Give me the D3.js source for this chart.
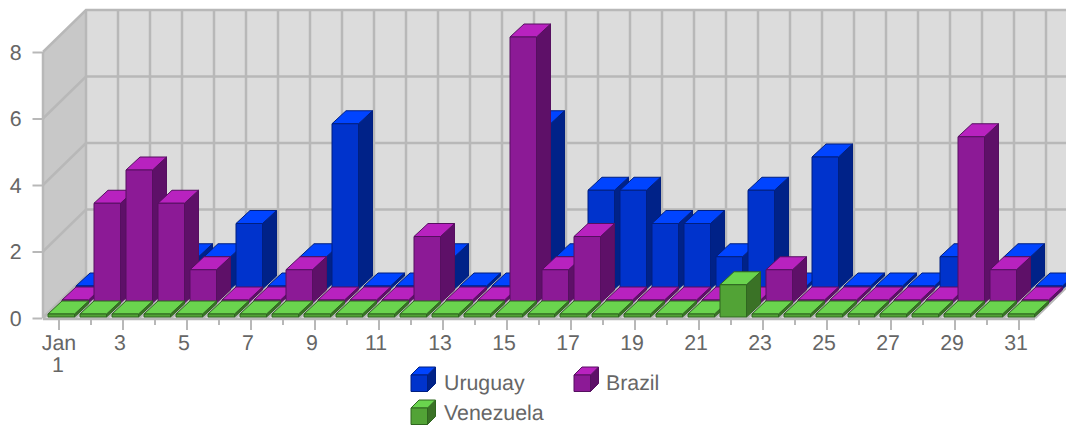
<!DOCTYPE html>
<html lang="en">
<head>
<meta charset="UTF-8">
<title>Uruguay, Brazil, Venezuela</title>
<script src="https://cdn.jsdelivr.net/npm/d3@7"></script>
<style>
  html, body { margin: 0; padding: 0; background: #fff; overflow: hidden; }
  svg { display: block; }
  text { font-family: "Liberation Sans", Arial, sans-serif; font-size: 21.33px; fill: #666; text-rendering: geometricPrecision; }
</style>
</head>
<body>
<div id="chart"></div>
<script>
// data
const days = d3.range(1, 32);
const yTicks = [0, 2, 4, 6, 8];
const uruguay = [0,0,0,1,1,2,0,1,5,0,0,1,0,0,5,1,3,3,2,2,1,3,0,4,0,0,0,1,0,1,0];
const brazil = [0,3,4,3,1,0,0,1,0,0,0,2,0,0,8,1,2,0,0,0,0,0,1,0,0,0,0,0,5,1,0];
const venezuela = [0,0,0,0,0,0,0,0,0,0,0,0,0,0,0,0,0,0,0,0,0,1,0,0,0,0,0,0,0,0,0];

const width = 1066, height = 425;
const left = 43, floorY = 318, topY = 52;
const depthX = 43, depthY = 42;       // depth of the whole box
const barW = 26.5, barDX = 14, barDY = 13; // one bar
const minH = 3;                       // zero values still draw a thin slab

const series = [
  { name: "Uruguay", values: uruguay, slot: 2, topOff: 28, front: "#0033cc", top: "#0044ff", side: "#002288", line: "#001f80" },
  { name: "Brazil", values: brazil, slot: 1, topOff: 15, front: "#8c1a96", top: "#b822bf", side: "#5e1068", line: "#560f60" },
  { name: "Venezuela", values: venezuela, slot: 0, topOff: 0, front: "#52a336", top: "#6ad44e", side: "#3a7226", line: "#2f661f" }
];

const x = d3.scaleBand().domain(days).range([left, left + 32 * 31]);
const y = d3.scaleLinear().domain([0, 8]).range([floorY, topY]);

const svg = d3.select("#chart").append("svg").attr("width", width).attr("height", height);

// walls and floor
const right = left + 32 * 31;
const grid = "#b8b8b8";
svg.append("polygon")
  .attr("points", [[left + depthX, y(8) - depthY], [right + depthX, y(8) - depthY], [right + depthX, floorY - depthY], [left + depthX, floorY - depthY]].join(" "))
  .attr("fill", "#dcdcdc");
svg.append("polygon")
  .attr("points", [[left, floorY], [left, y(8)], [left + depthX, y(8) - depthY], [left + depthX, floorY - depthY]].join(" "))
  .attr("fill", "#c8c8c8");
svg.append("polygon")
  .attr("points", [[left, floorY], [right, floorY], [right + depthX, floorY - depthY], [left + depthX, floorY - depthY]].join(" "))
  .attr("fill", "#dcdcdc");

const gridG = svg.append("g").attr("stroke", grid).attr("stroke-width", 2.5).attr("fill", "none");
yTicks.forEach(t => {
  gridG.append("polyline")
    .attr("points", [[left, y(t)], [left + depthX, y(t) - depthY], [right + depthX, y(t) - depthY]].join(" "));
});
days.concat([32]).forEach(d => {
  const px = left + 32 * (d - 1);
  gridG.append("polyline")
    .attr("points", [[px, floorY], [px + depthX, floorY - depthY], [px + depthX, y(8) - depthY]].join(" "));
});
gridG.append("line").attr("x1", left).attr("x2", left).attr("y1", y(8)).attr("y2", floorY);
gridG.append("line").attr("x1", left).attr("x2", right).attr("y1", floorY + 1).attr("y2", floorY + 1);

// one cube: front face at (fx, fy), size w x h, plus top and side faces
function cube(g, s, fx, fy, w, h, dx, dy) {
  const c = g.append("g").attr("stroke", s.line).attr("stroke-width", 1).attr("stroke-linejoin", "round");
  c.append("polygon").attr("fill", s.side)
    .attr("points", [[fx + w, fy], [fx + w + dx, fy - dy], [fx + w + dx, fy + h - dy], [fx + w, fy + h]].join(" "));
  c.append("polygon").attr("fill", s.top)
    .attr("points", [[fx, fy], [fx + dx, fy - dy], [fx + w + dx, fy - dy], [fx + w, fy]].join(" "));
  c.append("rect").attr("fill", s.front)
    .attr("x", fx).attr("y", fy).attr("width", w).attr("height", h);
}

// bars, back row first
const bars = svg.append("g");
series.forEach(s => {
  const offX = 5 + s.slot * 14;
  const base = floorY - 1 - s.slot * 14;
  s.values.forEach((v, i) => {
    const top = Math.min(y(v) - s.topOff, base - minH);
    cube(bars, s, x(days[i]) + offX, top, barW, base - top, barDX, barDY);
  });
});

// axes
const yAxis = d3.axisLeft(y).tickValues(yTicks).tickSize(10).tickPadding(11);
const yG = svg.append("g").attr("transform", `translate(${left - 0.5},0)`).call(yAxis);
yG.select(".domain").remove();
yG.selectAll("line").attr("stroke", grid).attr("stroke-width", 2);
yG.selectAll("text").style("font-size", "21.33px").attr("dy", "0.35em");

const xAxis = d3.axisBottom(x).tickSize(11).tickPadding(6).tickFormat(d => d % 2 ? d : "");
const xG = svg.append("g").attr("transform", `translate(0,${floorY + 1})`).call(xAxis);
xG.select(".domain").remove();
xG.selectAll("line").attr("stroke", grid).attr("stroke-width", 2)
  .attr("y2", d => d % 2 ? 11 : 6);
xG.selectAll("text").style("font-size", "21.33px").attr("dx", "-3").attr("y", 16).attr("dy", "0.71em");
xG.selectAll("g.tick").filter(d => d === 1).select("text").each(function () {
  const t = d3.select(this).text(null).attr("dx", 0);
  t.append("tspan").attr("x", 0).text("Jan");
  t.append("tspan").attr("x", -1).attr("dy", "1.03em").text("1");
});

// legend
const legendPos = [[411, 375, 444, 390], [574, 375, 606, 390], [411, 408, 444, 420]];
series.forEach((s, i) => {
  const p = legendPos[i];
  cube(svg, s, p[0], p[1], 16.5, 16.5, 8, 8);
  svg.append("text").attr("x", p[2]).attr("y", p[3]).text(s.name);
});
</script>
</body>
</html>
